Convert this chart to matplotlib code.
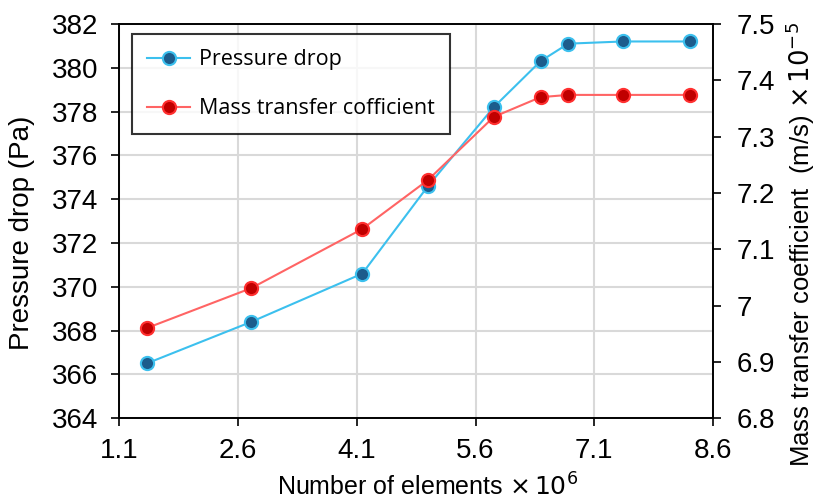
import numpy as np
import matplotlib
matplotlib.use('Agg')
import matplotlib.pyplot as plt
from matplotlib.ticker import FormatStrFormatter

plt.rcParams['font.family'] = ['Liberation Sans', 'DejaVu Sans']

# number of mesh elements (x 10^6)
elements = [1.45, 2.77, 4.17, 5.00, 5.83, 6.42, 6.77, 7.46, 8.31]
# pressure drop in Pa
pressure_drop = [366.5, 368.4, 370.6, 374.6, 378.2, 380.3, 381.1, 381.2, 381.2]
# mass transfer coefficient (m/s) x 10^-5
mass_transfer = [6.96, 7.031, 7.136, 7.223, 7.335, 7.370, 7.374, 7.374, 7.374]

x_ticks = [1.1, 2.6, 4.1, 5.6, 7.1, 8.6]
left_ticks = list(range(364, 383, 2))
right_ticks = [6.8, 6.9, 7.0, 7.1, 7.2, 7.3, 7.4, 7.5]

fig = plt.figure(figsize=(8.16, 4.99), dpi=100)
ax = fig.add_axes([0.146, 0.162, 0.728, 0.79])
ax2 = ax.twinx()

l1, = ax.plot(elements, pressure_drop, color='#3cc0ee', lw=1.5, marker='o',
              markersize=9.5, markerfacecolor='#1c5c8c', markeredgecolor='#3cc0ee',
              markeredgewidth=1.5, label='Pressure drop', zorder=3)
l2, = ax2.plot(elements, mass_transfer, color='#ff6464', lw=1.5, marker='o',
               markersize=9.5, markerfacecolor='#c00000', markeredgecolor='#ff3030',
               markeredgewidth=1.5, label='Mass transfer cofficient', zorder=3)

ax.set_xlim(1.1, 8.6)
ax.set_ylim(364, 382)
ax2.set_ylim(6.8, 7.5)
ax.set_xticks(x_ticks)
ax.set_yticks(left_ticks)
ax2.set_yticks(right_ticks)
ax.xaxis.set_major_formatter(FormatStrFormatter('%g'))
ax2.yaxis.set_major_formatter(FormatStrFormatter('%g'))

ax.grid(True, color='#d9d9d9', lw=1.5)
ax.set_axisbelow(True)

ax.tick_params(axis='x', labelsize=20, length=6, width=1.2, pad=8)
ax.tick_params(axis='y', labelsize=20, length=6, width=1.2, pad=9)
ax2.tick_params(axis='y', labelsize=20, length=6, width=1.2, pad=11)
for a in (ax, ax2):
    for s in a.spines.values():
        s.set_linewidth(1.2)

ax.set_xlabel(r'Number of elements $\times\,10^6$', fontsize=18)
ax.set_ylabel('Pressure drop (Pa)', fontsize=20)
ax2.set_ylabel(r'Mass transfer coefficient  (m/s) $\times\,10^{-5}$', fontsize=18.5)
ax.xaxis.set_label_coords(0.519, -0.14)
ax.yaxis.set_label_coords(-0.142, 0.47)
ax2.yaxis.set_label_coords(1.118, 0.44)

leg = ax.legend(handles=[l1, l2], loc='upper left', bbox_to_anchor=(0.015, 0.985),
                prop={'family': 'Open Sans', 'size': 15.5}, frameon=True,
                fancybox=False, edgecolor='black', labelspacing=1.3,
                handlelength=2.0, handletextpad=0.4, borderpad=0.7,
                borderaxespad=0.2)
leg.get_frame().set_linewidth(1.5)

fig.savefig('out.png', dpi=100)
